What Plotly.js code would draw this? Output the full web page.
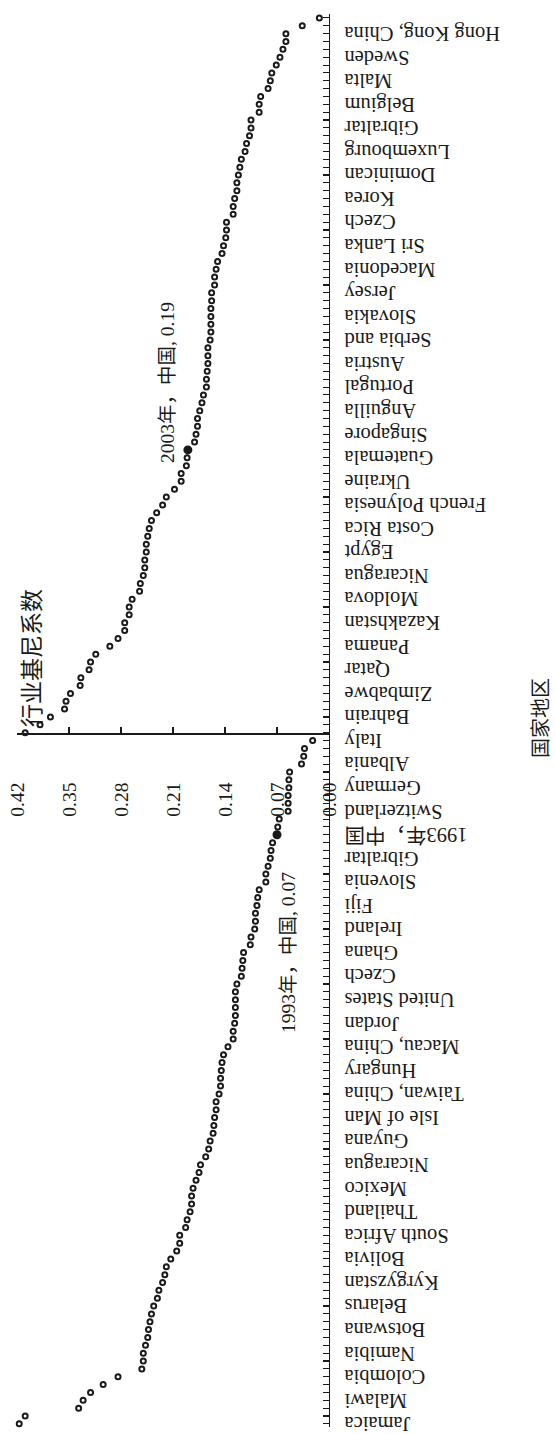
<!DOCTYPE html>
<html>
<head>
<meta charset="utf-8">
<script src="https://cdn.plot.ly/plotly-3.0.1.min.js"></script>
<style>
  html, body { margin: 0; padding: 0; background: #fff; overflow: hidden; width: 555px; height: 1434px; }
  #wrap { position: absolute; left: 0; top: 0; width: 1434px; height: 555px;
          transform-origin: 0 0; transform: translate(0px, 1434px) rotate(-90deg); }
  #chart { width: 1434px; height: 555px; }
</style>
</head>
<body>
<div id="wrap"><div id="chart"></div></div>
<script>
// ---- data ----
const labels1993 = ["Jamaica","Malawi","Colombia","Namibia","Botswana","Belarus","Kyrgyzstan","Bolivia",
  "South Africa","Thailand","Mexico","Nicaragua","Guyana","Isle of Man","Taiwan, China","Hungary",
  "Macau, China","Jordan","United States","Czech","Ghana","Ireland","Fiji","Slovenia","Gibraltar",
  "1993年，中国","Switzerland","Germany","Albania","Italy"];
const labels2003 = ["Bahrain","Zimbabwe","Qatar","Panama","Kazakhstan","Moldova","Nicaragua","Egypt",
  "Costa Rica","French Polynesia","Ukraine","Guatemala","Singapore","Anguilla","Portugal","Austria",
  "Serbia and","Slovakia","Jersey","Macedonia","Sri Lanka","Czech","Korea","Dominican","Luxembourg",
  "Gibraltar","Belgium","Malta","Sweden","Hong Kong, China"];

const gini1993 = [0.417,0.409,0.337,0.331,0.321,0.304,0.284,0.252,0.250,0.250,
  0.247,0.244,0.243,0.241,0.239,0.236,0.231,0.229,0.224,0.221,
  0.219,0.213,0.205,0.201,0.201,0.193,0.191,0.187,0.185,0.185,
  0.183,0.179,0.175,0.173,0.166,0.162,0.160,0.156,0.155,0.154,
  0.152,0.152,0.148,0.146,0.146,0.145,0.144,0.142,0.136,0.129,
  0.129,0.127,0.126,0.126,0.126,0.126,0.124,0.118,0.117,0.116,
  0.115,0.106,0.105,0.100,0.099,0.099,0.097,0.096,0.094,0.085,
  0.085,0.082,0.079,0.078,0.076,0.070,0.069,0.067,0.055,0.055,
  0.055,0.054,0.054,0.053,0.037,0.034,0.033,0.022];

const gini2003 = [0.409,0.389,0.375,0.356,0.354,0.348,0.335,0.334,0.323,0.321,
  0.314,0.295,0.284,0.275,0.275,0.269,0.269,0.265,0.255,0.254,
  0.250,0.248,0.248,0.246,0.246,0.244,0.242,0.239,0.232,0.224,
  0.219,0.208,0.199,0.199,0.192,0.191,0.190,0.181,0.179,0.177,
  0.177,0.174,0.171,0.169,0.165,0.165,0.164,0.163,0.163,0.163,
  0.160,0.159,0.159,0.159,0.159,0.158,0.158,0.154,0.154,0.152,
  0.150,0.144,0.142,0.139,0.138,0.138,0.129,0.129,0.127,0.124,
  0.124,0.122,0.120,0.118,0.113,0.111,0.107,0.105,0.105,0.094,
  0.094,0.092,0.082,0.079,0.077,0.071,0.066,0.062,0.058,0.058,
  0.036,0.013];

const valueTicks = [0.00,0.07,0.14,0.21,0.28,0.35,0.42];
const valueTickText = ["0.00","0.07","0.14","0.21","0.28","0.35","0.42"];
const labelStep = 3;
const chinaRank1993 = 76;   // position of China within the 1993 ranking
const chinaRank2003 = 37;   // position of China within the 2003 ranking
const yTitle = "行业基尼系数";
const xTitle = "国家地区";

// ---- build positions ----
const n1993 = gini1993.length;
const x1993 = gini1993.map((_, i) => i + 1);
const x2003 = gini2003.map((_, i) => n1993 + i + 1);
const tickvals = labels1993.map((_, k) => 1 + labelStep * k)
  .concat(labels2003.map((_, k) => n1993 + labelStep + labelStep * k));
const ticktext = labels1993.concat(labels2003);
const chinaX = [x1993[chinaRank1993 - 1], x2003[chinaRank2003 - 1]];
const chinaY = [gini1993[chinaRank1993 - 1], gini2003[chinaRank2003 - 1]];
const chinaText = ["1993年，中国, " + chinaY[0].toFixed(2), "2003年，中国, " + chinaY[1].toFixed(2)];

const xMin = 0.6, xMax = x2003[x2003.length - 1] + 0.5;
const axisAt = n1993 + 0.75;
const axisPos = (axisAt - xMin) / (xMax - xMin);

const serif = "Liberation Serif, 'Times New Roman', 'Noto Sans CJK SC', serif";
const cjk = "'Noto Sans CJK SC', sans-serif";
const ink = "#1a1a1a";

const markerOpen = { symbol: "circle-open", size: 5, color: ink, line: { width: 2, color: ink } };

const traces = [
  { type: "scatter", mode: "markers", name: "1993", x: x1993, y: gini1993, marker: markerOpen, showlegend: false, cliponaxis: false },
  { type: "scatter", mode: "markers", name: "2003", x: x2003, y: gini2003, marker: markerOpen, showlegend: false, cliponaxis: false },
  { type: "scatter", mode: "markers", name: "中国", x: chinaX, y: chinaY,
    marker: { symbol: "circle", size: 9, color: ink }, showlegend: false, cliponaxis: false }
];

const layout = {
  width: 1434, height: 555,
  margin: { l: 7, r: 14, t: 17.3, b: 225.7, pad: 0 },
  paper_bgcolor: "#fff", plot_bgcolor: "#fff",
  showlegend: false,
  xaxis: {
    range: [xMin, xMax], autorange: false,
    tickmode: "array", tickvals: tickvals, ticktext: ticktext,
    tickangle: -90, ticks: "inside", ticklen: 6, tickwidth: 1.1, tickcolor: ink,
    ticklabelstandoff: 6, ticklabeloverflow: "allow",
    tickfont: { family: serif, size: 20.5, color: ink },
    minor: { tickmode: "linear", tick0: 1, dtick: 1, ticks: "inside", ticklen: 6, tickwidth: 1.1, tickcolor: ink, showgrid: false },
    showline: true, linecolor: ink, linewidth: 1.3, mirror: false,
    showgrid: false, zeroline: false, automargin: false
  },
  yaxis: {
    range: [0, 0.42], autorange: false,
    anchor: "free", position: axisPos, side: "left",
    tickmode: "array", tickvals: valueTicks, ticktext: valueTickText,
    ticks: "inside", ticklen: 6, tickwidth: 1.2, tickcolor: ink,
    ticklabelstandoff: 44, ticklabeloverflow: "allow",
    tickfont: { family: serif, size: 19.5, color: ink },
    showline: true, linecolor: ink, linewidth: 1.3,
    showgrid: false, zeroline: false, automargin: false
  },
  annotations: [
    { text: yTitle, xref: "x", yref: "y", x: axisAt, y: 0.403, xanchor: "left", yanchor: "middle",
      xshift: 6, showarrow: false, font: { family: cjk, size: 23, color: ink } },
    { text: xTitle, xref: "paper", yref: "paper", x: 0.502, y: -0.674, xanchor: "center", yanchor: "middle",
      showarrow: false, borderpad: 0, font: { family: cjk, size: 20, color: ink } },
    { text: chinaText[0], xref: "x", yref: "y", x: chinaX[0], y: chinaY[0], xanchor: "right", yanchor: "middle",
      xshift: -35, yshift: -11.5, showarrow: false, font: { family: serif, size: 19.5, color: ink } },
    { text: chinaText[1], xref: "x", yref: "y", x: chinaX[1], y: chinaY[1], xanchor: "left", yanchor: "middle",
      xshift: -15, yshift: 20, showarrow: false, font: { family: serif, size: 19.5, color: ink } }
  ]
};

Plotly.newPlot("chart", traces, layout, { displayModeBar: false, staticPlot: true, responsive: false });
</script>
</body>
</html>
